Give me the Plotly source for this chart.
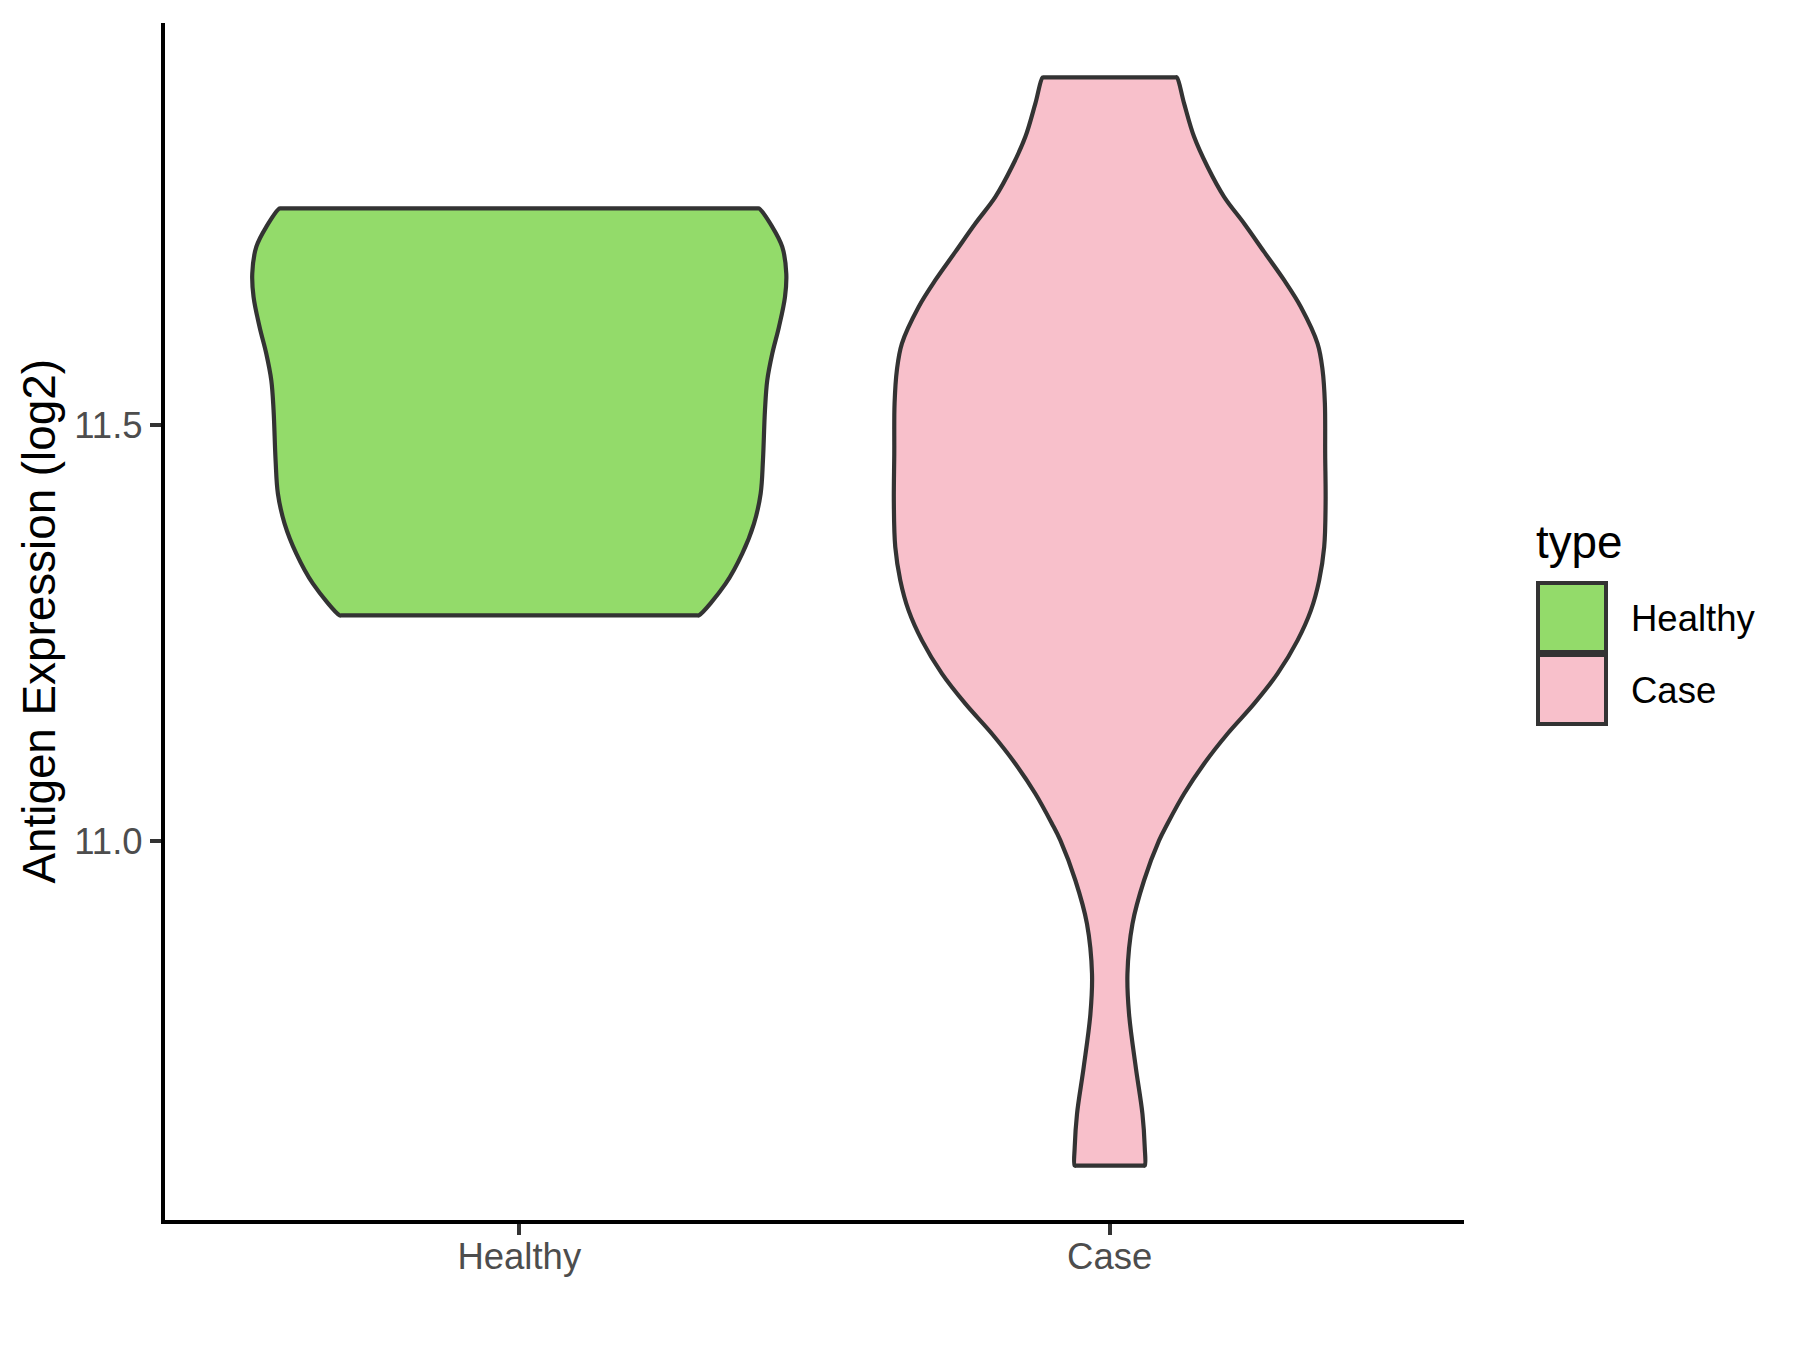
import plotly.graph_objects as go

# categories and colours
categories = ["Healthy", "Case"]
fill_colors = ["#93DB6A", "#F8C0CB"]

# density profile: y level (log2 expression) and half width (x units)
healthy_y = [11.2716, 11.3097, 11.3458, 11.3819, 11.4179, 11.4579, 11.5180,
             11.5541, 11.5862, 11.6181, 11.6542, 11.6823, 11.7143, 11.7383,
             11.7605]
healthy_hw = [0.3042, 0.3495, 0.3776, 0.3975, 0.4088, 0.4127, 0.4161,
              0.4200, 0.4285, 0.4398, 0.4500, 0.4522, 0.4454, 0.4285,
              0.4059]

case_y = [10.6106, 10.6326, 10.6727, 10.7287, 10.7929, 10.8410, 10.9011,
          10.9531, 11.0012, 11.0213, 11.0573, 11.0934, 11.1294, 11.1655,
          11.2016, 11.2416, 11.2776, 11.3137, 11.3537, 11.4059, 11.4660,
          11.5261, 11.5661, 11.5982, 11.6422, 11.6743, 11.7083, 11.7424,
          11.7744, 11.8105, 11.8465, 11.8867, 11.9179]
case_hw = [0.0593, 0.0593, 0.0554, 0.0441, 0.0327, 0.0300, 0.0385,
           0.0581, 0.0836, 0.0978, 0.1259, 0.1598, 0.1995, 0.2446,
           0.2842, 0.3181, 0.3407, 0.3547, 0.3632, 0.3656, 0.3649,
           0.3644, 0.3605, 0.3520, 0.3237, 0.2954, 0.2615, 0.2276,
           0.1937, 0.1656, 0.1429, 0.1259, 0.1136]

y_ticks = [11.0, 11.5]
y_title = "Antigen Expression (log2)"
legend_title = "type"

# the page body has an 8px margin, so the figure is a bit smaller than the window
BODY = 8
W, H = 1800 - 2 * BODY, 1350 - 2 * BODY
# plot area on screen: x 165..1464, y 23..1220
L, T = 165 - BODY, 23 - BODY
R, B = W - (1464 - BODY), H - (1220 - BODY)
OUTLINE = "#333333"
FONT = "Liberation Sans, Arial, sans-serif"


def violin_outline(center, ys, hws, eps=0.003):
    """輪郭（左側→上端→右側→下端）"""
    xs = [center - w for w in hws]
    yy = list(ys)
    # tiny steps at the corners keep the flat ends straight under spline smoothing
    xs += [center - hws[-1] + eps, center + hws[-1] - eps]
    yy += [ys[-1], ys[-1]]
    xs += [center + w for w in hws[::-1]]
    yy += list(ys[::-1])
    xs += [center + hws[0] - eps, center - hws[0] + eps, center - hws[0]]
    yy += [ys[0]] * 3
    return xs, yy


fig = go.Figure()
profiles = [(healthy_y, healthy_hw), (case_y, case_hw)]
for i, (ys, hws) in enumerate(profiles):
    xs, yy = violin_outline(i + 1, ys, hws)
    fig.add_trace(go.Scatter(
        x=xs, y=yy, mode="lines", fill="toself",
        fillcolor=fill_colors[i], name=categories[i],
        line=dict(color=OUTLINE, width=4.2, shape="spline", simplify=False),
        hoverinfo="name", showlegend=False,
    ))

# ggplot style 5% expansion of the data range
all_y = healthy_y + case_y
pad = 0.05 * (max(all_y) - min(all_y))
y_range = [min(all_y) - pad, max(all_y) + pad]

axis_style = dict(
    showgrid=False, zeroline=False,
    showline=True, linecolor="black", linewidth=4.2,
    ticks="outside", ticklen=11, tickwidth=4, tickcolor=OUTLINE,
    tickfont=dict(family=FONT, size=36.5, color="#4D4D4D"),
)
fig.update_xaxes(
    range=[0.4, len(categories) + 0.6], tickvals=list(range(1, len(categories) + 1)),
    ticktext=categories, ticklabelstandoff=-10, **axis_style,
)
fig.update_yaxes(
    range=y_range, tickvals=y_ticks, ticktext=[f"{v:.1f}" for v in y_ticks],
    **axis_style,
)

pw, ph = W - L - R, H - T - B


def px_x(px):
    # screen px -> paper
    return (px - BODY - L) / pw


def px_y(py):
    return (H - B - (py - BODY)) / ph


annotations = [dict(
    text=y_title, textangle=-90, xref="paper", yref="paper",
    x=px_x(39), y=0.5, xanchor="center", yanchor="middle", showarrow=False,
    font=dict(family=FONT, size=45.8, color="black"),
)]
annotations.append(dict(
    text=legend_title, xref="paper", yref="paper", x=px_x(1534), y=px_y(542),
    xanchor="left", yanchor="middle", showarrow=False,
    font=dict(family=FONT, size=45.8, color="black"),
))

# manual legend keys, sized like the ggplot keys
shapes = []
for i, name in enumerate(categories):
    top = 583 + i * 72
    shapes.append(dict(
        type="rect", xref="paper", yref="paper",
        x0=px_x(1538), x1=px_x(1606), y0=px_y(top), y1=px_y(top + 69),
        fillcolor=fill_colors[i], line=dict(color=OUTLINE, width=4),
    ))
    annotations.append(dict(
        text=name, xref="paper", yref="paper", x=px_x(1629), y=px_y(top + 35),
        xanchor="left", yanchor="middle", showarrow=False,
        font=dict(family=FONT, size=36.5, color="black"),
    ))

fig.update_layout(
    width=W, height=H,
    margin=dict(l=L, r=R, t=T, b=B, autoexpand=False),
    paper_bgcolor="white", plot_bgcolor="white",
    font=dict(family=FONT),
    showlegend=False,
    annotations=annotations, shapes=shapes,
)

fig.write_html("out.html")
